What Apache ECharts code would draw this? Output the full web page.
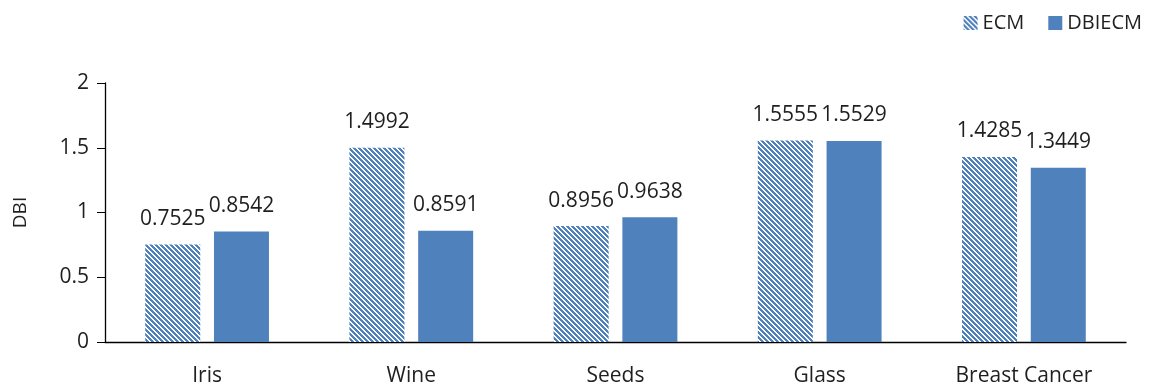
<!DOCTYPE html>
<html>
<head>
<meta charset="utf-8">
<script src="https://cdn.jsdelivr.net/npm/echarts@6/dist/echarts.min.js"></script>
<style>
  html, body { margin: 0; padding: 0; background: #fff; }
  #chart { width: 1155px; height: 392px; }
</style>
</head>
<body>
<div id="chart"></div>
<script>
// Davies-Bouldin index per dataset
const categories = ['Iris', 'Wine', 'Seeds', 'Glass', 'Breast Cancer'];
const ecmValues = [0.7525, 1.4992, 0.8956, 1.5555, 1.4285];
const dbiecmValues = [0.8542, 0.8591, 0.9638, 1.5529, 1.3449];
const yTicks = [0, 0.5, 1, 1.5, 2];

const BLUE = '#4F81BD';
const TEXT = '#1f1f1f';
const FONT = '"Open Sans", "Liberation Sans", sans-serif';

// Diagonal hatch tile for the ECM bars
function hatchTile() {
  const size = 5;
  const c = document.createElement('canvas');
  c.width = size; c.height = size;
  const ctx = c.getContext('2d');
  ctx.fillStyle = '#ffffff';
  ctx.fillRect(0, 0, size, size);
  ctx.fillStyle = BLUE;
  for (let y = 0; y < size; y++) {
    for (let x = 0; x < size; x++) {
      const d = ((x - y) % size + size) % size;
      if (d < 3) ctx.fillRect(x, y, 1, 1);
    }
  }
  return c;
}
const hatch = { image: hatchTile(), repeat: 'repeat' };

const labelStyle = {
  show: true,
  position: 'top',
  distance: 15,
  color: TEXT,
  fontFamily: FONT,
  fontSize: 21,
  formatter: p => p.value.toFixed(4)
};

const chart = echarts.init(document.getElementById('chart'), null, { renderer: 'canvas' });
chart.setOption({
  animation: false,
  backgroundColor: '#ffffff',
  legend: {
    top: 8,
    right: 8,
    itemWidth: 14,
    itemHeight: 14,
    itemGap: 24,
    textStyle: { fontFamily: FONT, fontSize: 20, color: TEXT },
    data: [
      { name: 'ECM', icon: 'rect' },
      { name: 'DBIECM', icon: 'rect' }
    ]
  },
  grid: { left: 105, right: 29, top: 83, bottom: 50, containLabel: false },
  xAxis: {
    type: 'category',
    data: categories,
    axisLine: { lineStyle: { color: '#000', width: 1.3 } },
    axisTick: { show: false },
    axisLabel: { color: TEXT, fontFamily: FONT, fontSize: 21, margin: 24 }
  },
  yAxis: {
    type: 'value',
    min: 0,
    max: 2,
    interval: 0.5,
    name: 'DBI',
    nameLocation: 'middle',
    nameGap: 75,
    nameTextStyle: { color: TEXT, fontFamily: FONT, fontSize: 19 },
    axisLine: { show: true, lineStyle: { color: '#000', width: 1.3 } },
    axisTick: { show: true, inside: false, length: 8, lineStyle: { color: '#000' } },
    splitLine: { show: false },
    axisLabel: {
      color: TEXT, fontFamily: FONT, fontSize: 21, margin: 16,
      formatter: v => (yTicks.includes(v) ? String(v) : '')
    }
  },
  series: [
    {
      name: 'ECM',
      type: 'bar',
      data: ecmValues,
      barWidth: 55,
      barGap: '25%',
      itemStyle: { color: hatch },
      label: labelStyle
    },
    {
      name: 'DBIECM',
      type: 'bar',
      data: dbiecmValues,
      barWidth: 55,
      barGap: '25%',
      itemStyle: { color: BLUE },
      label: labelStyle
    }
  ]
});
</script>
</body>
</html>
